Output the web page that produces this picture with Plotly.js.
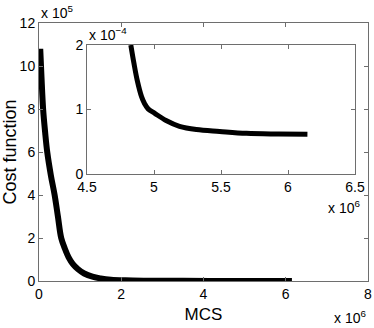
<!DOCTYPE html>
<html>
<head>
<meta charset="utf-8">
<script src="https://cdn.plot.ly/plotly-3.0.1.min.js"></script>
<style>
  body { margin: 0; background: #fff; }
  #plotDiv { width: 374px; height: 328px; }
</style>
</head>
<body>
<div id="plotDiv"></div>
<script>
// main curve, MCS in units of 1e6, cost in units of 1e5
var mcs = [0.03, 0.06, 0.1, 0.15, 0.2, 0.29, 0.38, 0.46, 0.54, 0.63, 0.72, 0.82, 0.95, 1.1, 1.3, 1.5, 1.75, 2.1, 2.6, 3.5, 4.5, 5.5, 6.15];
var cost = [10.8, 9.5, 8.0, 6.9, 6.0, 4.9, 4.0, 3.0, 2.0, 1.5, 1.1, 0.8, 0.55, 0.35, 0.2, 0.12, 0.06, 0.03, 0.015, 0.006, 0.003, 0.002, 0.002];

// inset, MCS in units of 1e6, cost in units of 1e-4
var mcsZoom = [4.827, 4.85, 4.874, 4.907, 4.93, 4.956, 5.006, 5.09, 5.19, 5.316, 5.49, 5.69, 5.93, 6.145];
var costZoom = [2.0, 1.72, 1.46, 1.2, 1.09, 1.01, 0.94, 0.83, 0.74, 0.69, 0.66, 0.63, 0.62, 0.615];

var axisColor = '#6e6e6e';
var fontFam = '"Liberation Sans", Arial, Helvetica, sans-serif';

var trace1 = {
  x: mcs,
  y: cost,
  mode: 'lines',
  type: 'scatter',
  line: { color: '#000', width: 6, shape: 'spline' },
  xaxis: 'x',
  yaxis: 'y'
};

var trace2 = {
  x: mcsZoom,
  y: costZoom,
  mode: 'lines',
  type: 'scatter',
  line: { color: '#000', width: 5, shape: 'spline' },
  xaxis: 'x2',
  yaxis: 'y2'
};

function axis(opts) {
  var a = {
    showline: true,
    linecolor: axisColor,
    linewidth: 1,
    mirror: 'ticks',
    ticks: 'inside',
    ticklen: 4,
    tickcolor: axisColor,
    showgrid: false,
    zeroline: false,
    tickfont: { family: fontFam, size: 14, color: '#000' }
  };
  for (var k in opts) a[k] = opts[k];
  return a;
}

var layout = {
  width: 374,
  height: 328,
  showlegend: false,
  paper_bgcolor: '#fff',
  plot_bgcolor: '#fff',
  font: { family: fontFam, size: 14, color: '#000' },
  margin: { l: 39, r: 6, t: 23, b: 47, pad: 0 },
  xaxis: axis({
    range: [0, 8], dtick: 2, tick0: 0, domain: [0, 1], anchor: 'y',
    title: { text: 'MCS', font: { family: fontFam, size: 17 }, standoff: 7 }
  }),
  yaxis: axis({
    range: [0, 12], dtick: 2, tick0: 0, domain: [0, 1], anchor: 'x',
    title: { text: 'Cost function', font: { family: fontFam, size: 18 }, standoff: 6 }
  }),
  xaxis2: axis({
    range: [4.5, 6.5], dtick: 0.5, tick0: 4.5, domain: [0.1459, 0.9605], anchor: 'y2'
  }),
  yaxis2: axis({
    range: [0, 2], dtick: 1, tick0: 0, domain: [0.4147, 0.9147], anchor: 'x2'
  }),
  annotations: [
    { text: 'x 10<sup>5</sup>', xref: 'paper', yref: 'paper', x: 0, y: 1, xanchor: 'left', yanchor: 'bottom', showarrow: false, font: { size: 14 } },
    { text: 'x 10<sup>6</sup>', xref: 'paper', yref: 'paper', x: 1.0, y: -0.182, xanchor: 'right', yanchor: 'bottom', showarrow: false, font: { size: 14 } },
    { text: 'x 10<sup>\u22124</sup>', xref: 'paper', yref: 'paper', x: 0.1459, y: 0.9147, xanchor: 'left', yanchor: 'bottom', showarrow: false, font: { size: 14 } },
    { text: 'x 10<sup>6</sup>', xref: 'paper', yref: 'paper', x: 0.982, y: 0.287, xanchor: 'right', yanchor: 'middle', showarrow: false, font: { size: 14 } }
  ]
};

Plotly.newPlot('plotDiv', [trace1, trace2], layout, { staticPlot: true });
</script>
</body>
</html>
